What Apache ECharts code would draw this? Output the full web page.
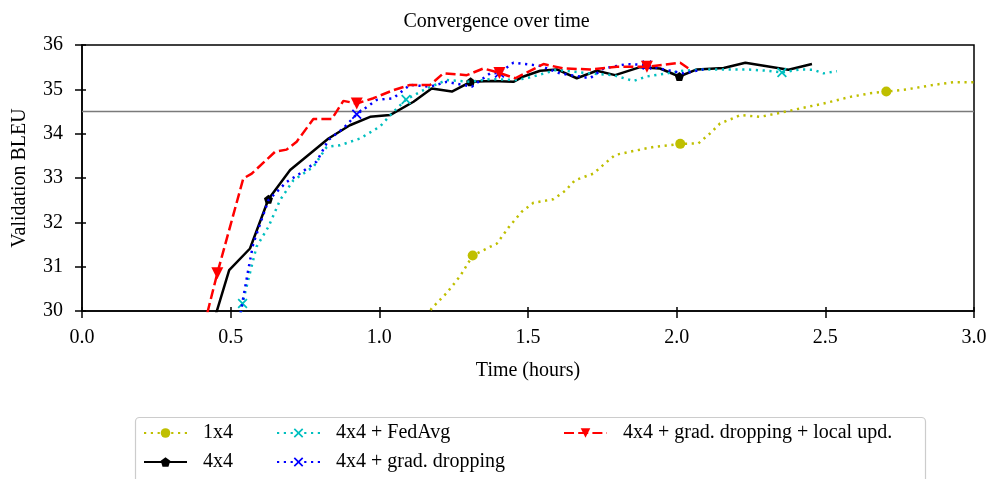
<!DOCTYPE html>
<html>
<head>
<meta charset="utf-8">
<script src="https://cdn.jsdelivr.net/npm/echarts@6/dist/echarts.min.js"></script>
<style>html,body{margin:0;padding:0;background:#fff}#c{width:993px;height:479px}</style>
</head>
<body>
<div id="c"></div>
<script>
// ---- data (time in hours, validation BLEU) ----
const xTicks = [0.0, 0.5, 1.0, 1.5, 2.0, 2.5, 3.0];
const yTicks = [30, 31, 32, 33, 34, 35, 36];
const refLine = 34.5;

const names = ["1x4", "4x4", "4x4 + FedAvg", "4x4 + grad. dropping", "4x4 + grad. dropping + local upd."];

const t1x4 = [1.15, 1.176, 1.227, 1.272, 1.314, 1.367, 1.395, 1.434, 1.479, 1.518, 1.585, 1.625, 1.658, 1.720, 1.759, 1.793, 1.855, 1.922, 2.012, 2.073, 2.113, 2.146, 2.191, 2.214, 2.281, 2.348, 2.416, 2.494, 2.584, 2.651, 2.705, 2.775, 2.864, 2.931, 2.988, 3.03];
const v1x4 = [29.75, 30.06, 30.41, 30.79, 31.25, 31.43, 31.52, 31.88, 32.24, 32.44, 32.52, 32.71, 32.95, 33.10, 33.33, 33.52, 33.61, 33.70, 33.77, 33.78, 34.01, 34.23, 34.35, 34.42, 34.38, 34.47, 34.57, 34.68, 34.83, 34.91, 34.95, 35.00, 35.10, 35.16, 35.16, 35.17];
const m1x4 = [4, 18, 30];

const t4x4 = [0.44, 0.495, 0.565, 0.627, 0.700, 0.829, 0.901, 0.969, 1.036, 1.115, 1.176, 1.244, 1.307, 1.38, 1.451, 1.485, 1.541, 1.597, 1.664, 1.731, 1.793, 1.877, 1.944, 2.009, 2.068, 2.158, 2.231, 2.376, 2.455];
const v4x4 = [29.7, 30.92, 31.41, 32.52, 33.18, 33.89, 34.19, 34.38, 34.42, 34.72, 35.02, 34.95, 35.17, 35.19, 35.17, 35.29, 35.42, 35.45, 35.25, 35.42, 35.32, 35.50, 35.47, 35.29, 35.45, 35.48, 35.60, 35.44, 35.57];
const m4x4 = [3, 12, 23];

const tFed = [0.530, 0.540, 0.559, 0.587, 0.627, 0.666, 0.711, 0.778, 0.823, 0.868, 0.935, 1.002, 1.047, 1.090, 1.159, 1.227, 1.305, 1.372, 1.462, 1.507, 1.597, 1.709, 1.787, 1.855, 1.900, 2.023, 2.090, 2.236, 2.303, 2.354, 2.416, 2.460, 2.494, 2.539];
const vFed = [29.8, 30.17, 30.70, 31.45, 31.90, 32.50, 32.95, 33.25, 33.70, 33.74, 33.89, 34.16, 34.49, 34.77, 35.02, 35.21, 35.17, 35.23, 35.21, 35.27, 35.44, 35.36, 35.32, 35.19, 35.29, 35.42, 35.45, 35.45, 35.42, 35.38, 35.45, 35.44, 35.36, 35.41];
const mFed = [1, 13, 29];

const tDrop = [0.530, 0.537, 0.559, 0.576, 0.627, 0.688, 0.733, 0.789, 0.829, 0.879, 0.924, 0.991, 1.047, 1.103, 1.171, 1.227, 1.311, 1.372, 1.404, 1.451, 1.541, 1.608, 1.709, 1.754, 1.832, 1.900, 1.956, 2.023, 2.090];
const vDrop = [29.8, 30.1, 30.92, 31.52, 32.50, 32.91, 33.10, 33.37, 33.86, 34.12, 34.44, 34.76, 34.80, 35.10, 35.06, 35.17, 35.06, 35.36, 35.37, 35.60, 35.53, 35.36, 35.25, 35.47, 35.57, 35.55, 35.45, 35.36, 35.45];
const mDrop = [10, 18, 25];

const tLocal = [0.41, 0.455, 0.5425, 0.571, 0.649, 0.688, 0.722, 0.778, 0.840, 0.879, 0.924, 0.98, 1.047, 1.103, 1.171, 1.215, 1.294, 1.350, 1.404, 1.457, 1.552, 1.619, 1.709, 1.799, 1.900, 2.012, 2.040];
const vLocal = [29.65, 30.85, 32.99, 33.10, 33.59, 33.64, 33.82, 34.33, 34.33, 34.74, 34.68, 34.80, 34.98, 35.10, 35.10, 35.36, 35.32, 35.47, 35.37, 35.25, 35.57, 35.47, 35.45, 35.51, 35.51, 35.60, 35.47];
const mLocal = [1, 10, 18, 24];

// ---- styles ----
const FONT = 'Liberation Serif';
const PENTAGON = 'path://M0,-1 L0.951,-0.309 L0.588,0.809 L-0.588,0.809 L-0.951,-0.309 Z';
const XMARK = 'path://M-1,-0.75 L-0.75,-1 L0,-0.25 L0.75,-1 L1,-0.75 L0.25,0 L1,0.75 L0.75,1 L0,0.25 L-0.75,1 L-1,0.75 L-0.25,0 Z';
const TRI_DOWN = 'path://M-1,-0.85 L1,-0.85 L0,0.85 Z';

function build(ts, vs, marks, size) {
  return ts.map((t, i) => marks.indexOf(i) >= 0
    ? { value: [t, vs[i]], symbolSize: size }
    : { value: [t, vs[i]], symbolSize: 0 });
}

function lineSeries(name, ts, vs, marks, color, type, symbol, size, z) {
  return {
    name: name, type: 'line', data: build(ts, vs, marks, size),
    symbol: symbol, showSymbol: true, clip: true, z: z,
    lineStyle: { color: color, width: 2.5, type: type, cap: 'butt' },
    itemStyle: { color: color, borderWidth: 0 },
    emphasis: { disabled: true }, animation: false
  };
}

const series = [
  { type: 'line', data: [[0, refLine], [3, refLine]], symbol: 'none', silent: true, z: 1,
    lineStyle: { color: '#7a7a7a', width: 1.5 }, animation: false },
  lineSeries(names[0], t1x4, v1x4, m1x4, '#bfbf00', [2.2, 4.6], 'circle', 10, 2),
  lineSeries(names[1], t4x4, v4x4, m4x4, '#000000', 'solid', PENTAGON, 9, 3),
  lineSeries(names[2], tFed, vFed, mFed, '#00bfbf', [2.2, 4.6], XMARK, 10, 4),
  lineSeries(names[3], tDrop, vDrop, mDrop, '#0000ff', [2.2, 4.6], XMARK, 10, 5),
  lineSeries(names[4], tLocal, vLocal, mLocal, '#ff0000', [10, 4.2], TRI_DOWN, 12, 6)
];

const legendCommon = {
  orient: 'vertical', top: 422, padding: 0, itemWidth: 43, itemHeight: 12, itemGap: 7,
  textStyle: { fontFamily: FONT, fontSize: 20, color: '#000', lineHeight: 22, padding: [0, 0, 0, 11] },
  selectedMode: false
};

const axisLabelStyle = { fontFamily: FONT, fontSize: 20, color: '#000' };

const option = {
  backgroundColor: '#fff',
  animation: false,
  title: {
    text: 'Convergence over time', left: 'center', top: 7,
    textStyle: { fontFamily: FONT, fontSize: 20, fontWeight: 'normal', color: '#000' }
  },
  grid: { left: 82, right: 19, top: 45, bottom: 168, show: true, borderColor: '#000', borderWidth: 1.5, backgroundColor: 'transparent' },
  graphic: [{
    type: 'rect', z: 0, silent: true,
    shape: { x: 135.5, y: 417.5, width: 790, height: 90, r: 4 },
    style: { fill: '#fff', stroke: '#cccccc', lineWidth: 1.2 }
  }],
  legend: [
    Object.assign({}, legendCommon, { left: 143, data: [names[0], names[1]] }),
    Object.assign({}, legendCommon, { left: 276, data: [names[2], names[3]] }),
    Object.assign({}, legendCommon, { left: 563, data: [names[4]] })
  ],
  xAxis: [{
    type: 'value', min: xTicks[0], max: xTicks[xTicks.length - 1], interval: xTicks[1] - xTicks[0],
    name: 'Time (hours)', nameLocation: 'middle', nameGap: 50,
    nameTextStyle: { fontFamily: FONT, fontSize: 20, color: '#000' },
    axisLine: { show: true, onZero: false, lineStyle: { color: '#000', width: 1.5 } },
    axisTick: { show: true, inside: false, length: 7, lineStyle: { color: '#000', width: 1.5 } },
    axisLabel: Object.assign({ margin: 17, formatter: v => v.toFixed(1) }, axisLabelStyle),
    splitLine: { show: false }
  }, {
    type: 'value', position: 'bottom', min: xTicks[0], max: xTicks[xTicks.length - 1], interval: xTicks[1] - xTicks[0],
    axisLine: { show: false }, axisLabel: { show: false }, splitLine: { show: false },
    axisTick: { show: true, inside: true, length: 4, lineStyle: { color: '#000', width: 1.5 } }
  }],
  yAxis: [{
    type: 'value', min: yTicks[0], max: yTicks[yTicks.length - 1], interval: yTicks[1] - yTicks[0],
    name: 'Validation BLEU', nameLocation: 'middle', nameGap: 52, nameRotate: 90,
    nameTextStyle: { fontFamily: FONT, fontSize: 20, color: '#000' },
    axisLine: { show: true, onZero: false, lineStyle: { color: '#000', width: 1.5 } },
    axisTick: { show: true, inside: false, length: 7, lineStyle: { color: '#000', width: 1.5 } },
    axisLabel: Object.assign({ margin: 19 }, axisLabelStyle),
    splitLine: { show: false }
  }, {
    type: 'value', position: 'left', min: yTicks[0], max: yTicks[yTicks.length - 1], interval: yTicks[1] - yTicks[0],
    axisLine: { show: false }, axisLabel: { show: false }, splitLine: { show: false },
    axisTick: { show: true, inside: true, length: 4, lineStyle: { color: '#000', width: 1.5 } }
  }],
  series: series
};

const chart = echarts.init(document.getElementById('c'), null, { renderer: 'canvas' });
chart.setOption(option);
</script>
</body>
</html>
